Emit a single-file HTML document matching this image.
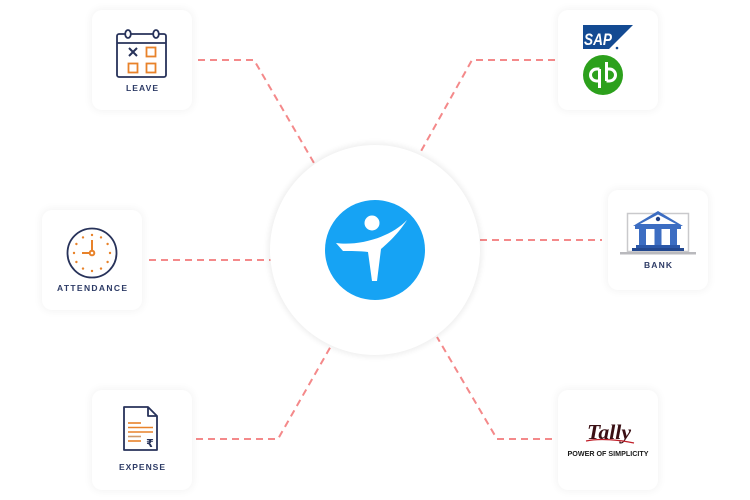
<!DOCTYPE html>
<html>
<head>
<meta charset="utf-8">
<style>
  html,body{margin:0;padding:0;background:#ffffff;}
  body{width:750px;height:500px;overflow:hidden;position:relative;font-family:"Liberation Sans",sans-serif;}
  .card{position:absolute;width:100px;height:100px;background:#fff;border-radius:10px;box-shadow:0 0 8px 2px rgba(0,0,0,0.045);}
  .center{position:absolute;left:270px;top:145px;width:210px;height:210px;border-radius:50%;background:#fff;box-shadow:0 0 6px 2px rgba(0,0,0,0.07);}
  svg{position:absolute;left:0;top:0;}
</style>
</head>
<body>
<svg width="750" height="500" viewBox="0 0 750 500" style="z-index:0">
  <g fill="none" stroke="#f4898a" stroke-width="2" stroke-dasharray="7 5">
    <path d="M198,60 L254,60 L314,163"/>
    <path d="M555,60 L472,60 L420,153"/>
    <path d="M149,260 L272,260"/>
    <path d="M480,240 L602,240"/>
    <path d="M196,439 L278,439 L331,346"/>
    <path d="M552,439 L497,439 L437,337"/>
  </g>
</svg>

<div class="center"></div>
<div class="card" style="left:92px;top:10px"></div>
<div class="card" style="left:558px;top:10px"></div>
<div class="card" style="left:42px;top:210px"></div>
<div class="card" style="left:608px;top:190px"></div>
<div class="card" style="left:92px;top:390px"></div>
<div class="card" style="left:558px;top:390px"></div>

<svg width="750" height="500" viewBox="0 0 750 500" style="z-index:2">
  <!-- Center logo -->
  <circle cx="375" cy="250" r="50" fill="#16a3f4"/>
  <circle cx="372" cy="223" r="7.5" fill="#fff"/>
  <path d="M336,243 C358,246 390,238 407,220 C398,234 388,243 381,249 L377,281 L372,281 L368,252 C360,251 350,251 343,251 Z" fill="#fff"/>

  <!-- LEAVE -->
  <g fill="none" stroke="#27325a" stroke-width="1.8">
    <rect x="117" y="34" width="49" height="43" rx="2"/>
    <line x1="117" y1="43" x2="166" y2="43"/>
    <ellipse cx="128" cy="34" rx="2.8" ry="4" fill="#fff"/>
    <ellipse cx="156" cy="34" rx="2.8" ry="4" fill="#fff"/>
    <path d="M129,48 L137,56 M137,48 L129,56" stroke-width="2"/>
  </g>
  <g fill="none" stroke="#e8822a" stroke-width="1.8">
    <rect x="146.5" y="47.5" width="9" height="9"/>
    <rect x="128.5" y="63.5" width="9" height="9"/>
    <rect x="146.5" y="63.5" width="9" height="9"/>
  </g>
  <text x="142" y="91" text-anchor="middle" font-family="Liberation Sans, sans-serif" font-weight="bold" font-size="8.5" fill="#2d3b66" textLength="32" lengthAdjust="spacing">LEAVE</text>

  <!-- ATTENDANCE clock -->
  <circle cx="92" cy="253" r="24.5" fill="none" stroke="#27325a" stroke-width="1.8"/>
  <g fill="#e8822a">
    <circle cx="92" cy="235" r="1.2"/><circle cx="101" cy="237.4" r="1.2"/><circle cx="107.6" cy="244" r="1.2"/>
    <circle cx="110" cy="253" r="1.2"/><circle cx="107.6" cy="262" r="1.2"/><circle cx="101" cy="268.6" r="1.2"/>
    <circle cx="92" cy="271" r="1.2"/><circle cx="83" cy="268.6" r="1.2"/><circle cx="76.4" cy="262" r="1.2"/>
    <circle cx="74" cy="253" r="1.2"/><circle cx="76.4" cy="244" r="1.2"/><circle cx="83" cy="237.4" r="1.2"/>
  </g>
  <g stroke="#e8822a" stroke-width="2" fill="none">
    <line x1="92" y1="251" x2="92" y2="240"/>
    <line x1="90" y1="253" x2="82" y2="253"/>
    <circle cx="92" cy="253" r="2.3" fill="#fff"/>
  </g>
  <text x="92" y="291" text-anchor="middle" font-family="Liberation Sans, sans-serif" font-weight="bold" font-size="8.5" fill="#2d3b66" textLength="70" lengthAdjust="spacing">ATTENDANCE</text>

  <!-- EXPENSE -->
  <g fill="none" stroke="#27325a" stroke-width="1.8" stroke-linejoin="round">
    <path d="M124,407 L148,407 L157,416 L157,450 L124,450 Z"/>
    <path d="M148,407 L148,416 L157,416"/>
  </g>
  <g stroke="#e8822a" stroke-width="1.6">
    <line x1="128" y1="423" x2="141" y2="423"/>
    <line x1="128" y1="427.5" x2="153" y2="427.5"/>
    <line x1="128" y1="432" x2="153" y2="432"/>
    <line x1="128" y1="436.5" x2="141" y2="436.5" stroke="#d09a6a"/>
    <line x1="128" y1="441" x2="141" y2="441"/>
  </g>
  <text x="150" y="447" text-anchor="middle" font-family="DejaVu Sans, sans-serif" font-weight="bold" font-size="11" fill="#27325a">₹</text>
  <text x="142" y="470" text-anchor="middle" font-family="Liberation Sans, sans-serif" font-weight="bold" font-size="8.5" fill="#2d3b66" textLength="46" lengthAdjust="spacing">EXPENSE</text>

  <!-- SAP -->
  <polygon points="583,25 633,25 609,49 583,49" fill="#134a92"/>
  <text x="584" y="45" font-family="Liberation Sans, sans-serif" font-weight="bold" font-style="italic" font-size="17" fill="#fff" textLength="28" lengthAdjust="spacingAndGlyphs">SAP</text>
  <circle cx="617" cy="48" r="1.3" fill="#134a92"/>

  <!-- QuickBooks -->
  <circle cx="603" cy="75" r="20" fill="#2ca01c"/>
  <g fill="none" stroke="#fff" stroke-width="3" stroke-linecap="butt">
    <path d="M599.5,69 L596.5,69 A6,6 0 0 0 596.5,81 L599.5,81"/>
    <line x1="599.5" y1="69" x2="599.5" y2="88"/>
    <path d="M606.5,69 L609.5,69 A6,6 0 0 1 609.5,81 L606.5,81"/>
    <line x1="606.5" y1="62" x2="606.5" y2="81"/>
  </g>

  <!-- BANK -->
  <rect x="627.5" y="213.5" width="61" height="38" fill="#fff" stroke="#c9c9cc" stroke-width="1.5"/>
  <rect x="620" y="252" width="76" height="2.5" fill="#b9b9bd"/>
  <polygon points="633,226 658,211 683,226" fill="#3c6dc2"/>
  <polygon points="640,224 658,214.5 676,224" fill="#fff"/>
  <circle cx="658" cy="219" r="2.2" fill="#1f3f85"/>
  <rect x="635" y="226" width="46" height="3" fill="#3c6dc2"/>
  <rect x="639" y="229" width="7" height="16" fill="#3c6dc2"/>
  <rect x="654.5" y="229" width="7" height="16" fill="#3c6dc2"/>
  <rect x="670" y="229" width="7" height="16" fill="#3c6dc2"/>
  <rect x="636" y="245" width="44" height="3" fill="#2b57a8"/>
  <rect x="632" y="248" width="52" height="3" fill="#23488f"/>
  <text x="658" y="268" text-anchor="middle" font-family="Liberation Sans, sans-serif" font-weight="bold" font-size="8.5" fill="#2d3b66" textLength="28" lengthAdjust="spacing">BANK</text>

  <!-- Tally -->
  <text x="609" y="439" text-anchor="middle" font-family="Liberation Serif, serif" font-weight="bold" font-style="italic" font-size="21" fill="#3a0f14" textLength="44" lengthAdjust="spacingAndGlyphs">Tally</text>
  <path d="M586,441 C600,438 620,440 634,443" fill="none" stroke="#c0202a" stroke-width="1.2"/>
  <text x="608" y="456" text-anchor="middle" font-family="Liberation Sans, sans-serif" font-weight="bold" font-size="7" fill="#1a1a1a" textLength="81" lengthAdjust="spacingAndGlyphs">POWER OF SIMPLICITY</text>
</svg>
</body>
</html>
